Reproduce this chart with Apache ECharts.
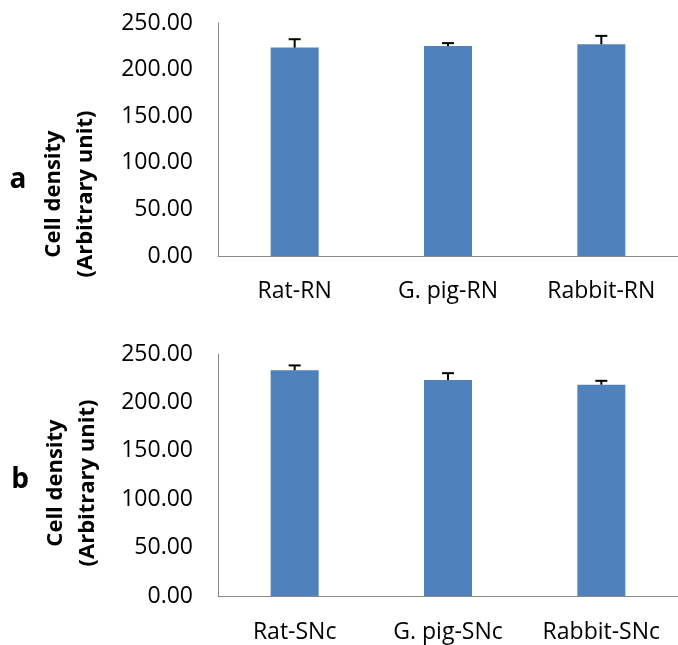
<!DOCTYPE html>
<html>
<head>
<meta charset="utf-8">
<script src="https://cdn.jsdelivr.net/npm/echarts@6/dist/echarts.min.js"></script>
<style>
  html, body { margin: 0; padding: 0; background: #fff; }
  #chart { width: 678px; height: 645px; }
</style>
</head>
<body>
<div id="chart"></div>
<script>
// data
var catsRN = ["Rat-RN", "G. pig-RN", "Rabbit-RN"];
var valsRN = [223.6, 225.4, 227.2];
var errRN = [9, 3, 9];

var catsSNc = ["Rat-SNc", "G. pig-SNc", "Rabbit-SNc"];
var valsSNc = [233.2, 223.2, 218.3];
var errSNc = [5, 7, 4];

var yTicks = [0, 50, 100, 150, 200, 250];

var barColor = "#4F81BD";
var axisColor = "#898989";
var fontName = "'Open Sans', sans-serif";

var myChart = echarts.init(document.getElementById("chart"));

function errData(vals, errs) {
  return vals.map(function (v, i) { return [i, v, v + errs[i]]; });
}

// upper error bar with cap
function renderErr(params, api) {
  var lo = api.coord([api.value(0), api.value(1)]);
  var hi = api.coord([api.value(0), api.value(2)]);
  var half = 6;
  var st = { stroke: "#000", lineWidth: 2 };
  return {
    type: "group",
    children: [
      { type: "line", shape: { x1: lo[0], y1: lo[1], x2: hi[0], y2: hi[1] }, style: st },
      { type: "line", shape: { x1: hi[0] - half, y1: hi[1], x2: hi[0] + half, y2: hi[1] }, style: st }
    ]
  };
}

function xAxisOf(idx, cats, margin) {
  return {
    type: "category",
    gridIndex: idx,
    data: cats,
    axisLine: { lineStyle: { color: axisColor, width: 1 } },
    axisTick: { show: false },
    axisLabel: { color: "#000", fontSize: 23, fontFamily: fontName, margin: margin }
  };
}

function yAxisOf(idx) {
  return {
    type: "value",
    gridIndex: idx,
    min: yTicks[0],
    max: yTicks[yTicks.length - 1],
    interval: 50,
    splitLine: { show: false },
    axisTick: { show: false },
    axisLine: { show: true, lineStyle: { color: axisColor, width: 1 } },
    axisLabel: {
      color: "#000", fontSize: 23, fontFamily: fontName, margin: 25,
      formatter: function (v) { return v.toFixed(2); }
    }
  };
}

var titleFont = "bold 22px " + fontName;

myChart.setOption({
  animation: false,
  grid: [
    { left: 218, top: 23, width: 463, height: 233 },
    { left: 218, top: 354, width: 463, height: 242 }
  ],
  xAxis: [xAxisOf(0, catsRN, 24), xAxisOf(1, catsSNc, 25)],
  yAxis: [yAxisOf(0), yAxisOf(1)],
  graphic: [
    { type: "text", x: 18, y: 180, style: { text: "a", font: "bold 28px " + fontName, fill: "#000", align: "center", verticalAlign: "middle" } },
    { type: "text", x: 20, y: 480, style: { text: "b", font: "bold 28px " + fontName, fill: "#000", align: "center", verticalAlign: "middle" } },
    { type: "text", x: 70, y: 194, rotation: Math.PI / 2,
      style: { text: "Cell density\n(Arbitrary unit)", font: titleFont, lineHeight: 32, fill: "#000", align: "center", verticalAlign: "middle" } },
    { type: "text", x: 72, y: 483, rotation: Math.PI / 2,
      style: { text: "Cell density\n(Arbitrary unit)", font: titleFont, lineHeight: 32, fill: "#000", align: "center", verticalAlign: "middle" } }
  ],
  series: [
    { type: "bar", xAxisIndex: 0, yAxisIndex: 0, data: valsRN, barWidth: 48, itemStyle: { color: barColor } },
    { type: "custom", xAxisIndex: 0, yAxisIndex: 0, data: errData(valsRN, errRN), renderItem: renderErr, z: 5 },
    { type: "bar", xAxisIndex: 1, yAxisIndex: 1, data: valsSNc, barWidth: 48, itemStyle: { color: barColor } },
    { type: "custom", xAxisIndex: 1, yAxisIndex: 1, data: errData(valsSNc, errSNc), renderItem: renderErr, z: 5 }
  ]
});
</script>
</body>
</html>
